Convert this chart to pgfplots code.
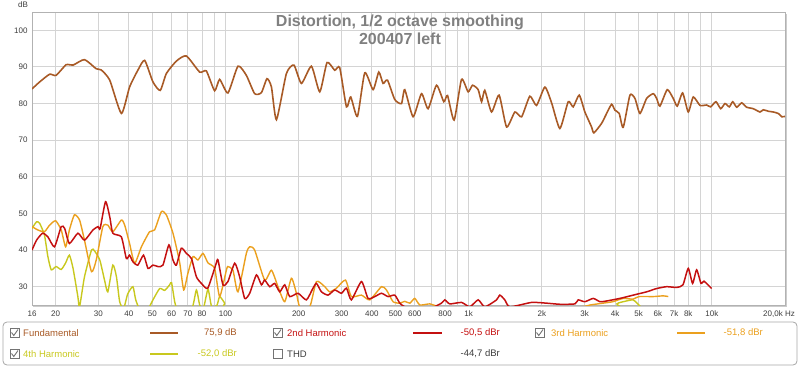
\documentclass[border=0pt]{standalone}
\usepackage{pgfplots}
\pgfplotsset{compat=1.18}
\usepackage{fontspec}
\setmainfont{Liberation Sans}
\definecolor{cfund}{RGB}{168,90,38}
\definecolor{csec}{RGB}{196,16,16}
\definecolor{cthird}{RGB}{235,160,30}
\definecolor{cfourth}{RGB}{200,200,30}
\definecolor{cgrid}{RGB}{212,212,212}
\definecolor{ctick}{RGB}{60,60,60}
\definecolor{ctitle}{RGB}{128,128,128}
\begin{document}
\begin{tikzpicture}
\useasboundingbox (0pt,0pt) rectangle (800pt,367pt);
\begin{axis}[
  at={(32pt,62pt)}, anchor=south west,
  width=753pt, height=293pt, scale only axis,
  xmode=log, xmin=16, xmax=20000, ymin=25, ymax=105,
  ytick={30,40,50,60,70,80,90,100},
  xtick={16,20,30,40,50,60,70,80,90,100,200,300,400,500,600,700,800,900,1000,2000,3000,4000,5000,6000,7000,8000,9000,10000},
  xticklabels={16,20,30,40,50,60,70,80,{},100,200,300,400,500,600,{},800,{},1k,2k,3k,4k,5k,6k,7k,8k,{},10k},
  grid=major, major grid style={draw=cgrid, line width=0.9pt},
  major tick length=0pt,
  axis line style={draw=gray!60, line width=1pt},
  tick label style={font=\fontsize{8}{9}\selectfont, text=ctick},
  /pgf/number format/assume math mode=true,
  xticklabel style={yshift=-2pt},
  yticklabel style={xshift=-1pt},
  clip=true,
]
% Fundamental
\addplot[cfund, line width=1.6pt, smooth, tension=0.35] coordinates {
(16,84.0)(17.2,85.9)(18.9,88.0)(20.1,87.7)(22.1,90.6)(23.6,90.5)(26.3,92.0)(29.4,89.5)(30.8,89.2)(33.4,86.4)(37.3,77.3)(40.3,84.5)(43.6,89.1)(46.5,91.8)(50.3,85.9)(53.9,83.6)(57.1,88.2)(62.8,91.6)(69.0,93.0)(78.3,88.6)(83.4,88.9)(90.2,83.5)(94.6,86.6)(102.3,82.9)(112.5,90.2)(121.8,87.7)(131.8,82.7)(140.5,83.0)(148.1,86.8)(154.5,84.5)(162,75.6)(178,88.2)(191.2,90.5)(205.2,85.5)(225.6,90.2)(244.1,83.2)(261.6,91.2)(281.3,89.1)(294.9,89.8)(314.4,79.1)(327.3,81.8)(348.8,76.5)(373.9,88.4)(404.5,83.8)(426.9,88.6)(444.6,85.5)(463.5,86.4)(496.7,81.1)(529.3,80.0)(546,83.8)(590.8,76.4)(639.7,82.7)(681,78.6)(737.6,85.0)(790.3,80.5)(818.5,82.2)(871.3,75.5)(934.6,86.6)(994.8,83.2)(1037,85.0)(1094,83.8)(1130,80.5)(1165,83.6)(1242,77.7)(1334,82.3)(1432,73.6)(1549,77.7)(1651,76.4)(1785,82.0)(1902,79.5)(2058,84.5)(2193,80.2)(2372,73.2)(2567,80.5)(2691,79.1)(2849,82.3)(3006,77.7)(3203,73.6)(3273,72.0)(3522,74.6)(3693,77.3)(3872,79.8)(3995,78.2)(4160,77.3)(4321,73.5)(4605,82.3)(4829,81.4)(5063,77.3)(5394,81.4)(5743,82.7)(5931,81.4)(6118,79.3)(6557,83.8)(6940,81.4)(7208,79.3)(7586,82.9)(8000,77.7)(8390,81.8)(8940,79.5)(9524,79.6)(9892,79.1)(10400,80.5)(10880,78.6)(11330,80.0)(11800,79.1)(12190,80.5)(12660,79.0)(13270,80.2)(13910,79.0)(14810,78.6)(15780,77.7)(16280,78.3)(17080,77.9)(17900,77.7)(18770,77.3)(19390,76.4)(20000,76.5)
};
% 4th harmonic
\addplot[cfourth, line width=1.4pt, smooth, tension=0.35] coordinates {
(16,45.9)(16.7,47.7)(17.2,47.3)(18.0,44.1)(18.6,38.2)(19.2,34.6)(20.1,35.5)(21.1,34.7)(22.0,36.5)(22.8,38.6)(23.6,35.0)(24.7,27.3)(25.1,24.5)(26.3,32.7)(28.1,40.0)(28.9,39.8)(30.4,37.3)(31.8,31.8)(32.8,28.6)(34.4,35.9)(35.6,32.7)(36.7,25.9)(38.1,24)(39.6,28)(41.6,30.0)(42.7,26.5)(44.3,24)(48.0,24)(50.3,26.4)(53.6,29.5)(56.2,29.0)(58.9,30.5)(60.0,31.1)(61.8,25.9)(63.5,24)(72.6,24)(75.9,29.1)(78.3,25)(81.1,24)(84.7,29.3)(87.7,24.5)(92.3,25)(94.6,27.3)(99.2,25.5)(101.4,24)(202,22)(3800,22)(4071,25.3)(4391,26.0)(4740,26.4)(4930,25.5)(5208,24)(6000,22)
};
% 3rd harmonic
\addplot[cthird, line width=1.4pt, smooth, tension=0.35] coordinates {
(16,46.4)(16.9,45.5)(18.0,45.0)(18.9,46.8)(20.0,48.0)(21.1,45.5)(22.0,40.9)(22.8,45.5)(23.9,49.6)(25.1,48.2)(26.3,42.7)(28.1,34.1)(29.4,37.3)(31.3,46.4)(32.8,46.8)(34.4,45.0)(37.3,48.2)(38.5,46.8)(40.3,41.8)(42.3,36.4)(45.1,40.9)(48.7,45.0)(51.1,45.5)(54.5,50.5)(57.1,49.6)(60.8,44.6)(64.7,36.8)(67.3,29.1)(70.0,33.6)(73.5,38.2)(77.0,37.3)(80.8,39.1)(84.7,36.5)(90.2,35.0)(94.6,27.3)(100.8,34.5)(102.3,35.5)(107.3,34.5)(112.5,28.6)(121.8,39.1)(125.7,40.9)(131.8,40.0)(144.9,31.8)(154.5,34.5)(164.4,30.0)(175.2,25.9)(186.6,32.3)(195.7,28.2)(202,24.5)(222,24.5)(236.6,31.4)(255.9,30.0)(268,28.6)(285.9,29.6)(311.4,31.8)(329.3,27.3)(362.3,27.7)(392,26.4)(437.9,30.0)(459,29.1)(488.9,25.9)(521,25.5)(546,26.0)(573,25.5)(600,26.8)(630,25.0)(692,25.3)(761,24.5)(1011,24)(1625,24)(2870,24.5)(3155,25.0)(3565,25.5)(3919,25.9)(4321,26.8)(4740,26.6)(5014,27.3)(5743,27.3)(6314,27.5)(6620,27.3)
};
% 2nd harmonic
\addplot[csec, line width=1.5pt, smooth, tension=0.35] coordinates {
(16,40.0)(16.7,42.7)(17.7,44.6)(18.6,43.6)(19.8,40.9)(21.1,46.4)(21.8,45.9)(22.8,41.8)(24.7,44.6)(26.3,42.7)(28.5,45.5)(29.9,46.4)(30.5,45.9)(32.1,53.2)(33.4,49.1)(34.4,44.6)(37.3,43.6)(39.1,37.7)(40.3,38.6)(41.6,36.8)(43.6,35.9)(46.0,38.6)(48.0,35.0)(50.3,35.9)(52.7,35.5)(55.3,35.9)(58.5,41.4)(60.8,37.3)(62.8,35.9)(65.8,40.5)(69.0,39.1)(72.4,37.7)(75.9,32.7)(79.6,30.9)(84.5,29.6)(91.1,35.9)(93.1,37.3)(97.6,30.5)(102.3,31.4)(109.1,36.4)(114.3,32.7)(119.9,26.8)(125.7,28.2)(134.0,33.2)(140.5,30.5)(144.9,31.8)(152.0,30.0)(159.3,30.9)(167.1,28.6)(175.2,30.5)(183.7,27.3)(198.7,28.2)(215.1,26.4)(229.0,29.6)(236.6,30.9)(248.0,28.6)(264.1,27.7)(281.3,29.1)(299.7,28.2)(314.4,29.6)(329.3,26.4)(362.3,31.4)(385.7,26.8)(411.0,27.3)(437.9,28.2)(466.2,27.3)(496.7,27.7)(520.9,25.5)(546,24.5)(600.4,23.5)(692.1,24)(773.2,25.5)(797.8,26.4)(836.4,25.3)(934.6,25.7)(1011,24.5)(1094,26.4)(1165,24.5)(1302,26.4)(1344,27.7)(1408,26.4)(1478,24.5)(1814,25.7)(2091,25.5)(2372,25.2)(2734,25.3)(2821,26.4)(3006,25.9)(3252,26.8)(3469,25.9)(3693,26.1)(4188,26.8)(4751,27.7)(5394,28.6)(5931,29.5)(6520,30.0)(7168,29.8)(7609,30.5)(8000,35.0)(8336,30.9)(8662,34.6)(9025,30.9)(9285,31.5)(9987,29.5)
};
\end{axis}
% frame shadow
\draw[gray!40, line width=1.5pt] (786.5pt,61pt) -- (786.5pt,353pt);
\draw[gray!40, line width=1.5pt] (33pt,60.5pt) -- (786.5pt,60.5pt);
% title
\node[anchor=base, text=ctitle, font=\bfseries\fontsize{16}{18}\selectfont] at (400pt,340.3pt) {Distortion, 1/2 octave smoothing};
\node[anchor=base, text=ctitle, font=\bfseries\fontsize{16}{18}\selectfont] at (400pt,322pt) {200407 left};
% axis unit labels
\node[text=ctick, font=\fontsize{8}{9}\selectfont] at (23pt,362.5pt) {dB};
\node[text=ctick, font=\fontsize{8}{9}\selectfont] at (779pt,53pt) {20,0k Hz};
% legend
\draw[gray!70, line width=0.8pt, rounded corners=4pt] (3pt,2pt) rectangle (797pt,45pt);
\tikzset{chk/.style={draw=gray!90!black, line width=0.6pt, fill=white},
         mk/.style={draw=gray!90!black, line width=0.9pt},
         lt/.style={font=\fontsize{9.5}{11}\selectfont}}
% row 1
\draw[chk] (10pt,29.5pt) rectangle ++(9pt,9pt);
\draw[mk] (11.5pt,34.5pt) -- (13.8pt,31.5pt) -- (18pt,37.5pt);
\node[lt, anchor=west, text=cfund, inner sep=0pt] at (23pt,34pt) {Fundamental};
\draw[cfund, line width=1.6pt] (150pt,34pt) -- (178pt,34pt);
\node[lt, anchor=east, text=cfund, inner sep=0pt] at (237pt,34pt) {75,9 dB};
\draw[chk] (273pt,29.5pt) rectangle ++(9pt,9pt);
\draw[mk] (274.5pt,34.5pt) -- (276.8pt,31.5pt) -- (281pt,37.5pt);
\node[lt, anchor=west, text=csec, inner sep=0pt] at (287pt,34pt) {2nd Harmonic};
\draw[csec, line width=1.6pt] (413pt,34pt) -- (442pt,34pt);
\node[lt, anchor=east, text=csec, inner sep=0pt] at (500pt,34pt) {-50,5 dBr};
\draw[chk] (535pt,29.5pt) rectangle ++(9pt,9pt);
\draw[mk] (536.5pt,34.5pt) -- (538.8pt,31.5pt) -- (543pt,37.5pt);
\node[lt, anchor=west, text=cthird, inner sep=0pt] at (551pt,34pt) {3rd Harmonic};
\draw[cthird, line width=1.6pt] (677pt,34pt) -- (705pt,34pt);
\node[lt, anchor=east, text=cthird, inner sep=0pt] at (763pt,34pt) {-51,8 dBr};
% row 2
\draw[chk] (10pt,8.5pt) rectangle ++(9pt,9pt);
\draw[mk] (11.5pt,13.5pt) -- (13.8pt,10.5pt) -- (18pt,16.5pt);
\node[lt, anchor=west, text=cfourth, inner sep=0pt] at (23pt,13pt) {4th Harmonic};
\draw[cfourth, line width=1.6pt] (150pt,13pt) -- (178pt,13pt);
\node[lt, anchor=east, text=cfourth, inner sep=0pt] at (237pt,13pt) {-52,0 dBr};
\draw[chk] (273pt,8.5pt) rectangle ++(9pt,9pt);
\node[lt, anchor=west, text=ctick, inner sep=0pt] at (287pt,13pt) {THD};
\node[lt, anchor=east, text=ctick, inner sep=0pt] at (500pt,13pt) {-44,7 dBr};
\end{tikzpicture}
\end{document}
